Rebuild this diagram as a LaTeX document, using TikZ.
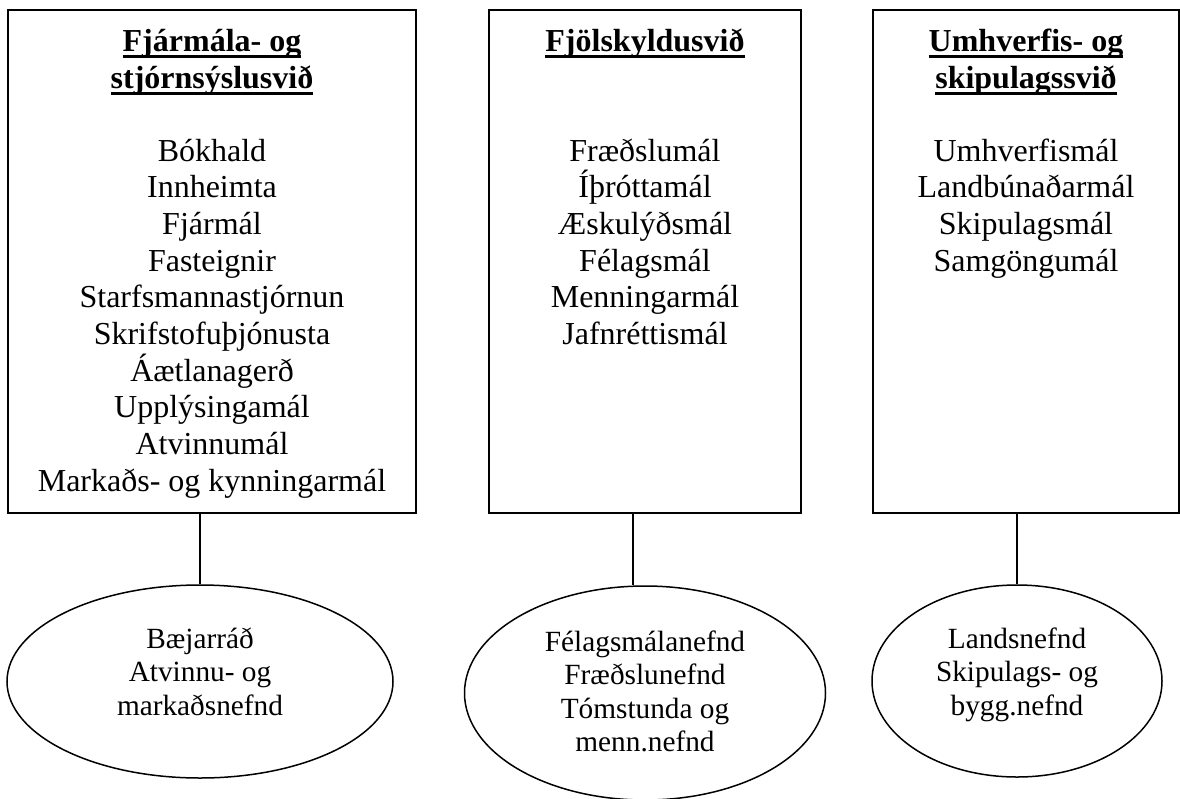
\documentclass[tikz,border=0pt]{standalone}
\usepackage{fontspec}
\setmainfont{Liberation Serif}
\usetikzlibrary{shapes.geometric}
\newcommand\ulbar[1]{\setbox0\hbox{#1}\rlap{\rule[-6.7pt]{\wd0}{2.7pt}}\box0}
\tikzset{
  boxnode/.style={draw=black, line width=1.5pt, rectangle, inner sep=0pt},
  ovalnode/.style={draw=black, line width=1.5pt, ellipse, inner sep=0pt},
  ttl/.style={anchor=base, inner sep=0pt, font=\fontsize{32}{36.7}\selectfont\bfseries},
  itm/.style={anchor=base, inner sep=0pt, font=\fontsize{32}{36.7}\selectfont},
  sml/.style={anchor=base, inner sep=0pt, font=\fontsize{29.3}{33.7}\selectfont},
  link/.style={draw=black, line width=1.5pt}
}
\begin{document}
\begin{tikzpicture}[x=1pt, y=-1pt]
\useasboundingbox (0,0) rectangle (1180,798);
% boxes
\node[boxnode, minimum width=408pt, minimum height=503pt] (b1) at (212,261.5) {};
\node[boxnode, minimum width=312pt, minimum height=503pt] (b2) at (645,261.5) {};
\node[boxnode, minimum width=306pt, minimum height=503pt] (b3) at (1026,261.5) {};
% ellipses
\node[ovalnode, minimum width=386pt, minimum height=193pt] (e1) at (200,681.5) {};
\node[ovalnode, minimum width=361pt, minimum height=214pt] (e2) at (645,693) {};
\node[ovalnode, minimum width=290pt, minimum height=192pt] (e3) at (1017,681) {};
% connectors
\coordinate (c2) at ([xshift=-12pt]e2.north);
\draw[link] (e1.north |- b1.south) -- (e1.north);
\draw[link] (c2 |- b2.south) -- (c2);
\draw[link] (e3.north |- b3.south) -- (e3.north);
% titles
\node[ttl] (t1a) at (212,51) {\ulbar{Fjármála- og}};
\node[ttl] (t1b) at (212,88) {\ulbar{stjórnsýslusvið}};
\node[ttl] (t2a) at (645,51) {\ulbar{Fjölskyldusvið}};
\node[ttl] (t3a) at (1026,51) {\ulbar{Umhverfis- og}};
\node[ttl] (t3b) at (1026,88) {\ulbar{skipulagssvið}};
% items
\foreach \t [count=\i] in {Bókhald, Innheimta, Fjármál, Fasteignir, Starfsmannastjórnun, Skrifstofuþjónusta, Áætlanagerð, Upplýsingamál, Atvinnumál, Markaðs- og kynningarmál}
  \node[itm] (p\i) at (212,{161+36.7*(\i-1)}) {\t};
\foreach \t [count=\i] in {Fræðslumál, Íþróttamál, Æskulýðsmál, Félagsmál, Menningarmál, Jafnréttismál}
  \node[itm] (q\i) at (645,{161+36.7*(\i-1)}) {\t};
\foreach \t [count=\i] in {Umhverfismál, Landbúnaðarmál, Skipulagsmál, Samgöngumál}
  \node[itm] (r\i) at (1026,{161+36.7*(\i-1)}) {\t};
% ellipse texts
\foreach \t [count=\i] in {Bæjarráð, Atvinnu- og, markaðsnefnd}
  \node[sml] (u\i) at (200,{648+33.7*(\i-1)}) {\t};
\foreach \t [count=\i] in {Félagsmálanefnd, Fræðslunefnd, Tómstunda og, menn.nefnd}
  \node[sml] (v\i) at (645,{651+33.5*(\i-1)}) {\t};
\foreach \t [count=\i] in {Landsnefnd, Skipulags- og, bygg.nefnd}
  \node[sml] (w\i) at (1017,{648+33.7*(\i-1)}) {\t};
\end{tikzpicture}
\end{document}
